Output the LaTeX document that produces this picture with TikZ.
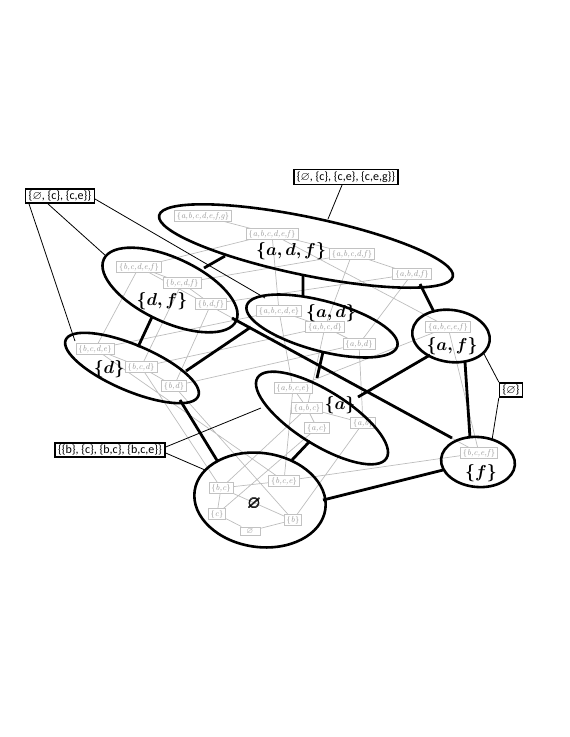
\documentclass[tikz,border=0pt]{standalone}
\usepackage{fontspec}
\usepackage{amssymb}
\usepackage{amsmath}
\usepackage{bm}
\newfontfamily\boxfont{Carlito}
\usetikzlibrary{shapes.geometric,backgrounds}
\definecolor{gline}{gray}{0.74}
\definecolor{gboxc}{gray}{0.76}
\definecolor{gtext}{gray}{0.6}
\newcommand\gs[1]{$\{$\textit{#1}$\}$}
\begin{document}
\begin{tikzpicture}[x=1pt,y=-1pt,
  gbox/.style={draw=gboxc, fill=white, text=gtext, line width=0.7pt, inner xsep=2.5pt, inner ysep=1.3pt, font=\fontsize{8.5}{10}\selectfont},
  gedge/.style={draw=gline, line width=0.7pt},
  bigell/.style={draw, ellipse, line width=2.6pt, inner sep=0pt, outer sep=0pt},
  tedge/.style={line width=2.8pt},
  lbox/.style={draw, line width=1.5pt, fill=white, font=\boxfont\fontsize{12}{14}\selectfont, inner xsep=3pt, inner ysep=2pt},
  conn/.style={line width=0.8pt},
  biglab/.style={font=\fontsize{16}{19}\selectfont, inner sep=0pt}
]
\useasboundingbox (0,0) rectangle (570,737);
% gray boxes
\node[gbox] (g1) at (203,216) {\gs{a,b,c,d,e,f,g}};
\node[gbox] (g2) at (272,234) {\gs{a,b,c,d,e,f}};
\node[gbox] (g3) at (352,254) {\gs{a,b,c,d,f}};
\node[gbox] (g4) at (412,274) {\gs{a,b,d,f}};
\node[gbox] (g5) at (139,267) {\gs{b,c,d,e,f}};
\node[gbox] (g6) at (182,283) {\gs{b,c,d,f}};
\node[gbox] (g7) at (211,304) {\gs{b,d,f}};
\node[gbox] (g8) at (95,349) {\gs{b,c,d,e}};
\node[gbox] (g9) at (141,367) {\gs{b,c,d}};
\node[gbox] (g10) at (174,386) {\gs{b,d}};
\node[gbox] (g11) at (279,311) {\gs{a,b,c,d,e}};
\node[gbox] (g12) at (325,327) {\gs{a,b,c,d}};
\node[gbox] (g13) at (359,344) {\gs{a,b,d}};
\node[gbox] (g14) at (293,388) {\gs{a,b,c,e}};
\node[gbox] (g15) at (307,408) {\gs{a,b,c}};
\node[gbox] (g16) at (317,428) {\gs{a,c}};
\node[gbox] (g17) at (363,423) {\gs{a,b}};
\node[gbox] (g18) at (448,327) {\gs{a,b,c,e,f}};
\node[gbox] (g19) at (479,453) {\gs{b,c,e,f}};
\node[gbox] (g20) at (221,488) {\gs{b,c}};
\node[gbox] (g21) at (284,481) {\gs{b,c,e}};
\node[gbox] (g22) at (217,514) {\gs{c}};
\node[gbox] (g23) at (293,520) {\gs{b}};
\node[gbox, minimum width=20pt] (g24) at (250,531) {$\varnothing$};
% gray edges (behind boxes)
\begin{scope}[on background layer]
\path[gedge] (g1)--(g2) (g2)--(g3) (g2)--(g5) (g2)--(g11) (g2)--(g18)
 (g3)--(g4) (g3)--(g6) (g3)--(g12) (g4)--(g7) (g4)--(g13)
 (g5)--(g6) (g5)--(g8) (g5)--(g19) (g6)--(g7) (g6)--(g9) (g7)--(g10)
 (g8)--(g9) (g8)--(g21) (g9)--(g10) (g9)--(g20) (g10)--(g23)
 (g11)--(g12) (g11)--(g8) (g11)--(g14) (g12)--(g13) (g12)--(g9) (g12)--(g15)
 (g13)--(g10) (g13)--(g17) (g18)--(g14) (g18)--(g19) (g14)--(g15) (g14)--(g21)
 (g15)--(g17) (g15)--(g16) (g15)--(g20) (g16)--(g22) (g17)--(g23)
 (g19)--(g21) (g21)--(g20) (g20)--(g23) (g20)--(g22) (g22)--(g24) (g23)--(g24);
\end{scope}
% big ellipses
\node[bigell, minimum width=300pt, minimum height=58pt, rotate=-11.75] (adf) at (306,246) {};
\node[bigell, minimum width=146pt, minimum height=64pt, rotate=-25] (df) at (170,290) {};
\node[bigell, minimum width=144pt, minimum height=46pt, rotate=-23] (d) at (132,368) {};
\node[bigell, minimum width=156pt, minimum height=50pt, rotate=-15] (ad) at (322,326) {};
\node[bigell, minimum width=152pt, minimum height=54pt, rotate=-32] (a) at (322,418) {};
\node[bigell, minimum width=78pt, minimum height=52pt, rotate=-8] (af) at (451,336) {};
\node[bigell, minimum width=74pt, minimum height=50pt, rotate=-5] (f) at (478,462) {};
\node[bigell, minimum width=132pt, minimum height=94pt, rotate=-8] (e) at (260,500) {};
% big labels
\node[biglab, font=\fontsize{17.5}{20}\selectfont] (ladf) at (291,251) {$\bm{\{a, d, f\}}$};
\node[biglab] (ldf) at (162,301) {$\bm{\{d, f\}}$};
\node[biglab] (ld) at (109,369) {$\bm{\{d\}}$};
\node[biglab] (lad) at (331,313) {$\bm{\{a, d\}}$};
\node[biglab] (la) at (340,405) {$\bm{\{a\}}$};
\node[biglab] (laf) at (452,346) {$\bm{\{a, f\}}$};
\node[biglab] (lf) at (481,473) {$\bm{\{f\}}$};
\node[biglab, font=\fontsize{17}{20}\selectfont] (le) at (254,504) {$\bm{\varnothing}$};
% thick edges between ellipses
\coordinate (p1a) at (225,256); \coordinate (p1b) at (204,268);
\coordinate (p2a) at (303,275); \coordinate (p2b) at (303,297);
\coordinate (p3a) at (420,284); \coordinate (p3b) at (434,312);
\coordinate (p4a) at (152,317); \coordinate (p4b) at (138,347);
\coordinate (p5a) at (232,318); \coordinate (p5b) at (452,438);
\coordinate (p6a) at (186,371); \coordinate (p6b) at (251,327);
\coordinate (p7a) at (323,352); \coordinate (p7b) at (317,378);
\coordinate (p8a) at (430,355); \coordinate (p8b) at (358,397);
\coordinate (p9a) at (465,362); \coordinate (p9b) at (470,438);
\coordinate (p10a) at (180,400); \coordinate (p10b) at (218,462);
\coordinate (p11a) at (310,441); \coordinate (p11b) at (292,460);
\coordinate (p12a) at (443,470); \coordinate (p12b) at (323,500);
\draw[tedge] (p1a)--(p1b) (p2a)--(p2b) (p3a)--(p3b) (p4a)--(p4b) (p5a)--(p5b)
  (p6a)--(p6b) (p7a)--(p7b) (p8a)--(p8b) (p9a)--(p9b) (p10a)--(p10b)
  (p11a)--(p11b) (p12a)--(p12b);
% label boxes
\node[lbox] (b1) at (60,196) {\{$\varnothing$, \{c\}, \{c,e\}\}};
\node[lbox] (b2) at (346,177) {\{$\varnothing$, \{c\}, \{c,e\}, \{c,e,g\}\}};
\node[lbox] (b3) at (110,450) {\{\{b\}, \{c\}, \{b,c\}, \{b,c,e\}\}};
\node[lbox] (b4) at (511,390) {\{$\varnothing$\}};
\coordinate (c1) at (75,341); \coordinate (c2) at (106,256); \coordinate (c3) at (265,298);
\coordinate (c4) at (328,219);
\coordinate (c5) at (261,408); \coordinate (c6) at (205,470);
\coordinate (c7) at (483,352); \coordinate (c8) at (492,440);
\draw[conn] ([xshift=4pt]b1.south west)--(c1) ([xshift=-12pt]b1.south)--(c2) ([yshift=-3pt]b1.east)--(c3)
  ([xshift=-4pt]b2.south)--(c4)
  ([yshift=3pt]b3.east)--(c5) ([yshift=-3pt]b3.east)--(c6)
  (b4.north west)--(c7) (b4.south west)--(c8);
\end{tikzpicture}
\end{document}
